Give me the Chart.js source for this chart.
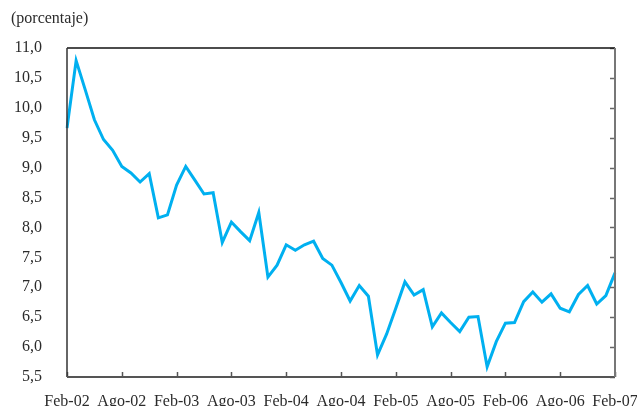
<!DOCTYPE html>
<html>
<head>
<meta charset="utf-8">
<script src="https://cdn.jsdelivr.net/npm/chart.js@4/dist/chart.umd.min.js"></script>
<style>
  html, body { margin: 0; padding: 0; background: #fff; }
  canvas { display: block; }
</style>
</head>
<body>
<canvas id="lineChart" width="637" height="406"></canvas>
<script>
// monthly series, Feb-02 .. Feb-07
const years = ['02', '03', '04', '05', '06', '07'];
const monthNames = ['Feb', 'Mar', 'Abr', 'May', 'Jun', 'Jul', 'Ago', 'Sep', 'Oct', 'Nov', 'Dic', 'Ene'];
const values = [
    9.66, 10.79, 10.30, 9.80, 9.47, 9.29, 9.02, 8.91, 8.76, 8.90, 8.16, 8.21,
    8.71, 9.02, 8.79, 8.56, 8.58, 7.75, 8.09, 7.93, 7.78, 8.25, 7.17, 7.37,
    7.71, 7.62, 7.71, 7.77, 7.48, 7.37, 7.08, 6.77, 7.03, 6.85, 5.87, 6.22,
    6.65, 7.09, 6.87, 6.96, 6.34, 6.57, 6.41, 6.26, 6.50, 6.51, 5.67, 6.09,
    6.40, 6.41, 6.76, 6.92, 6.75, 6.89, 6.65, 6.59, 6.88, 7.03, 6.72, 6.86,
    7.24
];
const tickEvery = 6;
const yMin = 5.5, yMax = 11, yStep = 0.5;
const unitLabel = '(porcentaje)';

// "Feb-02", "Mar-02", ... ; January already belongs to the next year
const labels = values.map((v, i) => {
    const m = i % 12;
    const y = Math.floor(i / 12) + (m === 11 ? 1 : 0);
    return monthNames[m] + '-' + years[Math.min(y, years.length - 1)];
});

const serif = 'Liberation Serif';
const textColor = '#2b2b2b';

// frame, inward ticks and unit label
const framePlugin = {
    id: 'frame',
    afterDraw(chart) {
        const { ctx, chartArea: a, scales } = chart;
        ctx.save();
        // ticks on bottom axis (pointing up)
        ctx.strokeStyle = '#555';
        ctx.lineWidth = 1.5;
        labels.forEach((l, i) => {
            if (i % tickEvery !== 0) return;
            const x = Math.round(scales.x.getPixelForValue(i)) + 0.5;
            ctx.beginPath();
            ctx.moveTo(x, a.bottom);
            ctx.lineTo(x, a.bottom - 5);
            ctx.stroke();
        });
        // ticks on right axis (pointing left)
        ctx.strokeStyle = '#666';
        for (let v = yMin; v <= yMax + 1e-9; v += yStep) {
            const y = Math.round(scales.y.getPixelForValue(v)) + 0.5;
            ctx.beginPath();
            ctx.moveTo(a.right, y);
            ctx.lineTo(a.right - 5, y);
            ctx.stroke();
        }
        // top border
        ctx.strokeStyle = '#111';
        ctx.lineWidth = 1.5;
        ctx.beginPath();
        ctx.moveTo(a.left, a.top);
        ctx.lineTo(a.right, a.top);
        ctx.stroke();
        // left axis
        ctx.strokeStyle = '#333';
        ctx.beginPath();
        ctx.moveTo(a.left, a.top);
        ctx.lineTo(a.left, a.bottom);
        ctx.stroke();
        // bottom axis
        ctx.strokeStyle = '#555';
        ctx.lineWidth = 2;
        ctx.beginPath();
        ctx.moveTo(a.left, a.bottom);
        ctx.lineTo(a.right, a.bottom);
        ctx.stroke();
        // right axis
        ctx.strokeStyle = '#777';
        ctx.beginPath();
        ctx.moveTo(a.right, a.top);
        ctx.lineTo(a.right, a.bottom);
        ctx.stroke();

        ctx.fillStyle = textColor;
        ctx.font = '16px "' + serif + '"';
        ctx.textBaseline = 'alphabetic';
        ctx.textAlign = 'left';
        ctx.fillText(unitLabel, 11, 23);
        ctx.restore();
    }
};

const ctx = document.getElementById('lineChart').getContext('2d');
const chart = new Chart(ctx, {
    type: 'line',
    data: {
        labels: labels,
        datasets: [{
            data: values,
            borderColor: '#00b0f0',
            borderWidth: 3,
            pointRadius: 0,
            tension: 0,
            fill: false
        }]
    },
    options: {
        responsive: false,
        animation: false,
        layout: { padding: { top: 48, right: 22, left: 0, bottom: 0 } },
        plugins: {
            legend: { display: false },
            tooltip: { enabled: false }
        },
        scales: {
            x: {
                type: 'category',
                offset: false,
                grid: { display: false, drawTicks: false },
                border: { display: false },
                afterFit: s => {
                    s.height = 29;
                    s.paddingLeft = 0;
                    s.paddingRight = 0;
                },
                ticks: {
                    autoSkip: false,
                    maxRotation: 0,
                    padding: 15,
                    color: textColor,
                    font: { family: serif, size: 16 },
                    callback: (val, i) => (i % tickEvery === 0 ? labels[i] : '')
                }
            },
            y: {
                min: yMin,
                max: yMax,
                grid: { display: false, drawTicks: false },
                border: { display: false },
                afterFit: s => {
                    s.width = 67;
                    s.paddingTop = 0;
                    s.paddingBottom = 0;
                },
                ticks: {
                    stepSize: yStep,
                    padding: 25,
                    color: textColor,
                    font: { family: serif, size: 16 },
                    callback: v => v.toFixed(1).replace('.', ',')
                }
            }
        }
    },
    plugins: [framePlugin]
});
</script>
</body>
</html>
